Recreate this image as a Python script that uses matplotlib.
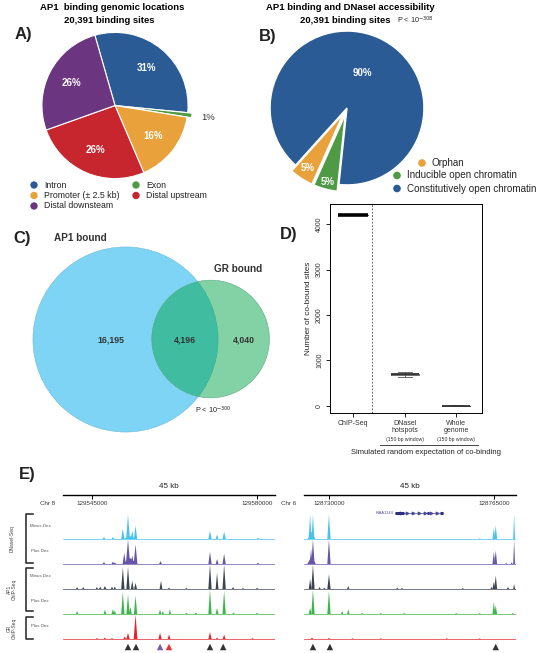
import matplotlib
matplotlib.use("Agg")
import matplotlib.pyplot as plt
import numpy as np
from matplotlib.patches import Circle

plt.rcParams['font.family'] = ['Liberation Sans', 'DejaVu Sans']

# ---------------- data ----------------
# A) genomic locations of AP1 sites
a_labels = ['Intron', 'Exon', 'Promoter (± 2.5 kb)', 'Distal upstream', 'Distal downsteam']
a_values = [31, 1, 16, 26, 26]
a_colors = ['#2b5b95', '#4f9a45', '#e9a23b', '#c7262f', '#6c357f']

# B) DNaseI accessibility at AP1 sites
b_labels = ['Constitutively open chromatin', 'Orphan', 'Inducible open chromatin']
b_values = [90, 5, 5]
b_colors = ['#2b5b95', '#e9a23b', '#4f9a45']

# C) overlap of AP1 and GR bound sites
ap1_only, both, gr_only = 16195, 4196, 4040

# D) observed vs simulated co-binding
d_names = ['ChIP-Seq', 'DNaseI\nhotspots', 'Whole\ngenome']
d_stats = [
    dict(med=4196, q1=4196, q3=4196, whislo=4196, whishi=4196),
    dict(med=697, q1=680, q3=714, whislo=631, whishi=754),
    dict(med=7, q1=4, q3=10, whislo=0, whishi=14),
]

# E) browser tracks: (position, height as fraction of track, half width bp)
chr8_region = (129538800, 129583800)
chr6_region = (128724700, 128769700)
chr8_ticks = [129545000, 129580000]
chr6_ticks = [128730000, 128765000]
track_names = ['Minus Dex', 'Plus Dex', 'Minus Dex', 'Plus Dex', 'Plus Dex']
track_colors = ['#45c3ee', '#6756a8', '#3b4450', '#3cb54a', '#e3262c']

chr8_peaks = [
    [(129547500, .08, 300), (129549400, .08, 300), (129553000, .12, 1300), (129551500, .42, 350),
     (129552600, 1.0, 400), (129553500, .33, 350), (129554200, .55, 350), (129570000, .33, 350),
     (129571500, .18, 300), (129573000, .30, 350), (129580200, .05, 300)],
    [(129547500, .08, 300), (129549400, .10, 300), (129549800, .06, 300), (129553000, .25, 1500),
     (129551800, .45, 350), (129552600, 1.0, 450), (129553500, .35, 350), (129554200, .80, 400),
     (129559500, .12, 300), (129570000, .50, 350), (129571500, .20, 300), (129573000, .42, 350),
     (129580200, .05, 300)],
    [(129541800, .08, 250), (129543100, .08, 250), (129546000, .08, 250), (129546700, .10, 250),
     (129547700, .12, 300), (129549200, .10, 250), (129549800, .10, 250), (129551500, .88, 350),
     (129552600, .90, 350), (129553500, .33, 300), (129554200, .25, 300), (129559600, .33, 300),
     (129561300, .05, 250), (129565000, .04, 250), (129570000, 1.0, 350), (129571500, .67, 300),
     (129573000, 1.0, 350), (129574900, .08, 250), (129577000, .04, 250), (129580000, .05, 250)],
    [(129541800, .12, 250), (129547700, .17, 300), (129549400, .20, 300), (129549800, .15, 250),
     (129551500, .90, 350), (129552600, .80, 350), (129553100, .30, 300), (129554200, .75, 350),
     (129559400, .17, 300), (129560000, .12, 250), (129561500, .20, 250), (129565000, .05, 250),
     (129567000, .07, 250), (129570000, 1.0, 350), (129571500, .25, 300), (129573000, .95, 350),
     (129575000, .06, 250), (129580000, .05, 250)],
    [(129546000, .04, 250), (129547700, .06, 250), (129549200, .04, 250), (129551900, .10, 300),
     (129552600, .25, 350), (129554200, 1.0, 400), (129559400, .25, 350), (129561300, .18, 300),
     (129570000, .28, 350), (129571500, .06, 250), (129573000, .18, 300), (129579000, .04, 250)],
]
chr6_peaks = [
    [(128726300, .30, 800), (128726000, 1.0, 300), (128726600, 1.0, 300), (128730000, 1.0, 350),
     (128762000, .03, 250), (128765000, .45, 300), (128765400, .55, 300), (128769300, 1.0, 200)],
    [(128726300, .30, 900), (128726200, .60, 300), (128726600, 1.0, 350), (128730000, 1.0, 350),
     (128765000, .50, 300), (128765400, .55, 300), (128767600, .05, 200), (128768800, .08, 200),
     (128769300, 1.0, 200)],
    [(128726000, .40, 300), (128726600, 1.0, 350), (128728000, .08, 250), (128729000, .05, 250),
     (128730000, .60, 350), (128734100, .12, 250), (128744500, .05, 250), (128745500, .04, 250),
     (128758400, .04, 250), (128764500, .08, 250), (128765000, .30, 300), (128765400, .55, 300),
     (128768000, .08, 250), (128769300, .20, 200)],
    [(128726000, .25, 300), (128726600, 1.0, 350), (128730000, .95, 350), (128732800, .12, 250),
     (128734100, .20, 250), (128737000, .04, 250), (128741000, .04, 250), (128746000, .04, 250),
     (128757000, .04, 250), (128762000, .04, 250), (128765000, .50, 300), (128765400, .35, 300),
     (128769000, .04, 250)],
    [(128726400, .05, 300), (128730000, .04, 300), (128735000, .03, 250), (128741000, .03, 250),
     (128755000, .03, 250), (128762000, .03, 250)],
]
chr8_marks = [(129552600, '#333333'), (129554300, '#333333'), (129559400, '#7b5ea7'),
              (129561300, '#e53238'), (129570000, '#333333'), (129572800, '#333333')]
chr6_marks = [(128726600, '#333333'), (128730200, '#333333'), (128765400, '#333333')]
gene_name = 'KIAA1244'
gene_span = (128744100, 128754300)
gene_exons = [(128744100, 128746000), (128750800, 128751200), (128753600, 128754300)]

# ---------------- figure ----------------
W, H = 539, 653
fig = plt.figure(figsize=(W / 100, H / 100), dpi=100)


def box(x0, y0, x1, y1):
    return [x0 / W, 1 - y1 / H, (x1 - x0) / W, (y1 - y0) / H]


ov = fig.add_axes([0, 0, 1, 1], zorder=10)
ov.set_xlim(0, W)
ov.set_ylim(H, 0)
ov.axis('off')

# panel letters
for lab, x, y in [('A)', 23, 35), ('B)', 268, 36), ('C)', 22, 239), ('D)', 289, 234), ('E)', 27, 475)]:
    ov.text(x, y, lab, fontsize=12, fontweight='bold', ha='center', va='center', color='#222')

# ----- A -----
ov.text(112, 8, 'AP1  binding genomic locations', fontsize=6.8, fontweight='bold', ha='center', va='center')
ov.text(109, 20.5, '20,391 binding sites', fontsize=6.8, fontweight='bold', ha='center', va='center')
axA = fig.add_axes(box(20, 10.5, 210, 200.5))
wA, _ = axA.pie(a_values, colors=a_colors, startangle=106, counterclock=False,
                explode=[0, 0.06, 0, 0, 0], wedgeprops=dict(edgecolor='white', linewidth=0.8))
axA.set_xlim(-1.3, 1.3)
axA.set_ylim(-1.3, 1.3)
for w, v, rr in zip(wA, a_values, [0.67, 1.22, 0.67, 0.67, 0.67]):
    t = np.deg2rad((w.theta1 + w.theta2) / 2)
    cx, cy = w.center
    if rr > 1:
        axA.text(cx + rr * np.cos(t), cy + rr * np.sin(t), '%d%%' % v, fontsize=6.8,
                 color='#333', ha='center', va='center')
    else:
        axA.text(cx + rr * np.cos(t), cy + rr * np.sin(t), '%d%%' % v, fontsize=7,
                 fontweight='bold', color='white', ha='center', va='center')

legA = [(0, 34, 185), (1, 136, 185), (2, 34, 195.5), (3, 136, 195.5), (4, 34, 206)]
for i, x, y in legA:
    ov.scatter(x, y, s=28, color=a_colors[i], edgecolor='none')
    ov.text(x + 10, y, a_labels[i], fontsize=6.3, ha='left', va='center', color='#222')

# ----- B -----
ov.text(350, 8, 'AP1 binding and DNaseI accessibility', fontsize=6.8, fontweight='bold', ha='center', va='center')
ov.text(345, 20.5, '20,391 binding sites', fontsize=6.8, fontweight='bold', ha='center', va='center')
ov.text(397, 20.5, r'P < 10$^{-308}$', fontsize=5.2, ha='left', va='center', color='#222')
axB = fig.add_axes(box(247, 8, 447, 208))
wB, _ = axB.pie(b_values, colors=b_colors, startangle=264, explode=[0, 0.09, 0.09],
                wedgeprops=dict(edgecolor='white', linewidth=1))
axB.set_xlim(-1.3, 1.3)
axB.set_ylim(-1.3, 1.3)
for w, v, rr in zip(wB, b_values, [0.5, 0.84, 0.9]):
    t = np.deg2rad((w.theta1 + w.theta2) / 2)
    cx, cy = w.center
    axB.text(cx + rr * np.cos(t), cy + rr * np.sin(t), '%d%%' % v, fontsize=7,
             fontweight='bold', color='white', ha='center', va='center')
for i, x, y in [(1, 422, 163), (2, 397, 175.5), (0, 397, 188.5)]:
    ov.scatter(x, y, s=30, color=b_colors[i], edgecolor='none')
    ov.text(x + 10, y, b_labels[i], fontsize=7.1, ha='left', va='center', color='#222')

# ----- C -----
axC = fig.add_axes(box(20, 225, 285, 445))
axC.set_xlim(20, 285)
axC.set_ylim(445, 225)
axC.axis('off')
k = 0.648
r1 = k * np.sqrt(ap1_only + both)
r2 = k * np.sqrt(gr_only + both)


def lens(d):
    a1 = r1 ** 2 * np.arccos((d * d + r1 * r1 - r2 * r2) / (2 * d * r1))
    a2 = r2 ** 2 * np.arccos((d * d + r2 * r2 - r1 * r1) / (2 * d * r2))
    a3 = 0.5 * np.sqrt((-d + r1 + r2) * (d + r1 - r2) * (d - r1 + r2) * (d + r1 + r2))
    return a1 + a2 - a3


lo, hi = r1 - r2 + 1e-6, r1 + r2 - 1e-6
for _ in range(60):
    mid = (lo + hi) / 2
    if lens(mid) > np.pi * k * k * both:
        lo = mid
    else:
        hi = mid
dist = (lo + hi) / 2
c1 = (125.5, 339.5)
c2 = (125.5 + dist, 339)
axC.add_patch(Circle(c1, r1, facecolor='#7dd4f5', edgecolor='#6fb9d6', lw=0.4))
axC.add_patch(Circle(c2, r2, facecolor='#00a446', alpha=0.485, edgecolor='none'))
axC.add_patch(Circle(c2, r2, facecolor='none', edgecolor='#5aa87c', lw=0.4))
axC.text(c1[0] - 15, 340, '{:,}'.format(ap1_only), fontsize=6.3, fontweight='bold', ha='center', va='center', color='#333')
axC.text((c2[0] - r2 + c1[0] + r1) / 2, 340, '{:,}'.format(both), fontsize=6.3, fontweight='bold', ha='center', va='center', color='#333')
axC.text((c1[0] + r1 + c2[0] + r2) / 2, 340, '{:,}'.format(gr_only), fontsize=6.3, fontweight='bold', ha='center', va='center', color='#333')
ov.text(80, 238, 'AP1 bound', fontsize=7.2, fontweight='bold', ha='center', va='center', color='#333')
ov.text(238, 269, 'GR bound', fontsize=7.2, fontweight='bold', ha='center', va='center', color='#333')
ov.text(213, 410, r'P < 10$^{-300}$', fontsize=5.2, ha='center', va='center', color='#222')

# ----- D -----
axD = fig.add_axes(box(330, 204, 482, 413))
bp = axD.bxp(d_stats, positions=[1, 2, 3], widths=[0.58, 0.55, 0.55], showfliers=False,
             boxprops=dict(color='#555', lw=0.6), whiskerprops=dict(color='#555', lw=0.6),
             capprops=dict(color='#555', lw=0.6), medianprops=dict(color='#333', lw=1.3))
bp['medians'][0].set_linewidth(2.6)
bp['medians'][0].set_color('black')
axD.axvline(1.37, color='#444', lw=0.6, ls=(0, (2, 2)))
axD.set_xlim(0.55, 3.5)
axD.set_ylim(-154, 4440)
axD.set_yticks([0, 1000, 2000, 3000, 4000])
axD.set_yticklabels(['0', '1000', '2000', '3000', '4000'], rotation=90, va='center', fontsize=5, color='#333')
axD.set_xticks([1, 2, 3])
axD.set_xticklabels(d_names, fontsize=5, color='#333', linespacing=0.95)
axD.tick_params(length=3, width=0.6, pad=2)
axD.set_ylabel('Number of co-bound sites', fontsize=5.9, color='#222', labelpad=3)
for s in axD.spines.values():
    s.set_linewidth(0.7)
for x in [2, 3]:
    axD.text(x, -0.125, '(150 bp window)', transform=axD.get_xaxis_transform(),
             fontsize=3.7, ha='center', va='center', color='#333')
ov.plot([380, 478], [445, 445], color='#222', lw=0.6)
ov.text(426, 452.5, 'Simulated random expectation of co-binding', fontsize=5.5, ha='center', va='center', color='#222')

# ----- E -----
panels = [(chr8_region, chr8_ticks, chr8_peaks, chr8_marks, 'Chr 8', 63, 275),
          (chr6_region, chr6_ticks, chr6_peaks, chr6_marks, 'Chr 6', 304, 516)]
for region, ticks, peaks, marks, chrom, x0, x1 in panels:
    axr = fig.add_axes(box(x0, 494, x1, 494.5))
    axr.set_xlim(region)
    for s in ['left', 'right', 'top']:
        axr.spines[s].set_visible(False)
    axr.spines['bottom'].set_linewidth(1)
    axr.patch.set_visible(False)
    axr.set_yticks([])
    axr.set_xticks(ticks)
    axr.set_xticklabels([str(t) for t in ticks], fontsize=4.5, color='#333')
    axr.tick_params(axis='x', length=3, width=0.7, pad=1.5)
    ov.text((x0 + x1) / 2, 486, '%d kb' % ((region[1] - region[0]) // 1000), fontsize=5.8,
            ha='center', va='center', color='#222')
    ov.text(x0 - 15, 503.5, chrom, fontsize=4.5, ha='center', va='center', color='#333')

    for i, (pk, col) in enumerate(zip(peaks, track_colors)):
        yb = 539 + 25 * i
        axt = fig.add_axes(box(x0, yb - 24.5, x1, yb + 0.5))
        axt.set_xlim(region)
        axt.set_ylim(-0.02, 1.0)
        axt.axis('off')
        axt.axhline(0, color=col, lw=0.5)
        for pos, h, hw in pk:
            axt.fill([pos - hw, pos, pos + hw], [0, h, 0], color=col, lw=0)

    axm = fig.add_axes(box(x0, 641, x1, 653))
    axm.set_xlim(region)
    axm.set_ylim(0, 1)
    axm.axis('off')
    axm.scatter([m[0] for m in marks], [0.5] * len(marks), marker='^', s=22,
                color=[m[1] for m in marks], edgecolor='none')

# gene model on chr6
axg = fig.add_axes(box(304, 508, 516, 518))
axg.set_xlim(chr6_region)
axg.set_ylim(-1, 1)
axg.axis('off')
axg.plot(gene_span, [0, 0], color='#4a4a9a', lw=0.5)
for s, e in gene_exons:
    axg.plot([s, e], [0, 0], color='#2e2e80', lw=2.2, solid_capstyle='butt')
axg.scatter(np.linspace(gene_span[0], gene_span[1], 9)[1:-1], [0] * 7, marker='>', s=3, color='#4a4a9a')
axg.text(gene_span[0] - 400, 0, gene_name, fontsize=2.8, ha='right', va='center', color='#4a4a9a')

# track labels and brackets
for i, name in enumerate(track_names):
    ov.text(40, 526 + 25 * i, name, fontsize=3.2, ha='center', va='center', color='#555')
for ytop, ybot, lab in [(514, 563, 'DNaseI-Seq'), (568, 611, 'AP1\nChIP-Seq'), (617, 639, 'GR\nChIP-Seq')]:
    ov.plot([33, 26, 26, 33], [ytop, ytop, ybot, ybot], color='#222', lw=1.1)
    ov.text(12, (ytop + ybot) / 2, lab, fontsize=3.5, rotation=90, ha='center', va='center',
            color='#444', linespacing=1.1)

fig.savefig('out.png', dpi=100)
